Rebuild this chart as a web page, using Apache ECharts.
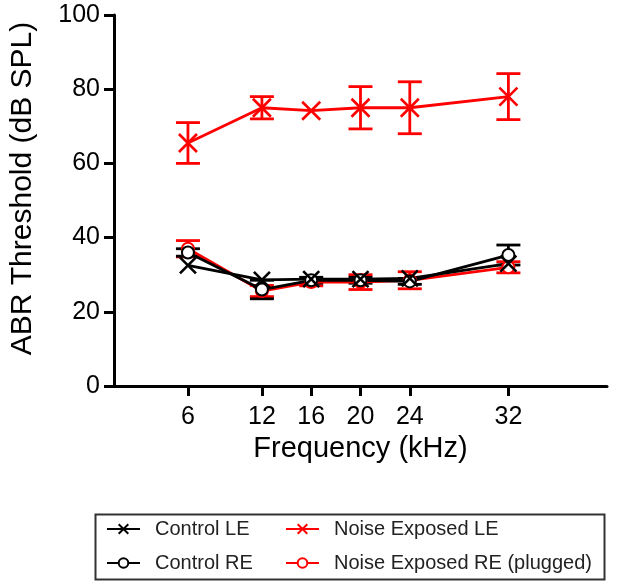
<!DOCTYPE html>
<html>
<head>
<meta charset="utf-8">
<script src="https://cdn.jsdelivr.net/npm/echarts@6/dist/echarts.min.js"></script>
<style>html,body{margin:0;padding:0;background:#fff;}#c{width:630px;height:583px;}</style>
</head>
<body>
<div id="c"></div>
<script>
const freqs = [6, 12, 16, 20, 24, 32];
const xTicks = [6, 12, 16, 20, 24, 32];
const yTicks = [0, 20, 40, 60, 80, 100];

const controlLE = [32.5, 28.6, 28.8, 28.8, 29, 33];
const controlLEsem = [0, 0, 0, 0, 0, 0];
const controlRE = [36, 26, 28.5, 28.5, 28.2, 35.3];
const controlREsem = [1, 2.5, 0.8, 0.8, 0.8, 2.7];
const noiseLE = [65.5, 75, 74.2, 75, 75, 78];
const noiseLEsem = [5.5, 3, 0, 5.7, 7, 6.2];
const noiseRE = [37, 25.6, 28, 28, 28.5, 32];
const noiseREsem = [2.2, 1.5, 1, 2, 2.3, 1.5];

const BLACK = '#000000';
const RED = '#ff0000';
const XSYM = 'path://M0,0L10,10M10,0L0,10';

function pairs(vals) { return freqs.map((f, i) => [f, vals[i]]); }
function errData(vals, sems) { return freqs.map((f, i) => [f, vals[i], sems[i]]); }

function lineSeries(name, vals, color, symbol, size) {
  return {
    name: name, type: 'line', data: pairs(vals),
    symbol: symbol, symbolSize: size, showSymbol: true, showAllSymbol: true,
    lineStyle: { color: color, width: 2.8 },
    itemStyle: { color: symbol === 'emptyCircle' ? color : 'rgba(0,0,0,0)', borderColor: color, borderWidth: 2.6 },
    emphasis: { disabled: true },
    z: 3
  };
}

function errSeries(name, vals, sems, color) {
  return {
    name: name, type: 'custom', data: errData(vals, sems),
    encode: { x: 0, y: [1] },
    renderItem: function (params, api) {
      const x = api.value(0), m = api.value(1), s = api.value(2);
      if (!(s > 0)) return { type: 'group', children: [] };
      const top = api.coord([x, m + s]);
      const bot = api.coord([x, m - s]);
      const hw = 12;
      const st = { stroke: color, lineWidth: 2.8 };
      return {
        type: 'group',
        children: [
          { type: 'line', shape: { x1: top[0], y1: top[1], x2: bot[0], y2: bot[1] }, style: st },
          { type: 'line', shape: { x1: top[0] - hw, y1: top[1], x2: top[0] + hw, y2: top[1] }, style: st },
          { type: 'line', shape: { x1: bot[0] - hw, y1: bot[1], x2: bot[0] + hw, y2: bot[1] }, style: st }
        ]
      };
    },
    z: 2, silent: true
  };
}

const FONT = 'Liberation Sans';
const chart = echarts.init(document.getElementById('c'), null, { renderer: 'canvas' });
chart.setOption({
  animation: false,
  backgroundColor: '#ffffff',
  grid: { left: 114, right: 23, top: 15, bottom: 197, outerBoundsMode: 'none' },
  xAxis: {
    type: 'value', min: 0, max: 40,
    name: 'Frequency (kHz)', nameLocation: 'middle', nameGap: 48,
    nameTextStyle: { fontFamily: FONT, fontSize: 29, color: '#000' },
    axisLine: { show: true, lineStyle: { color: '#000', width: 3 } },
    axisTick: { show: true, customValues: xTicks, length: 10, lineStyle: { color: '#000', width: 3 } },
    axisLabel: { customValues: xTicks, margin: 19, fontFamily: FONT, fontSize: 25, color: '#000' },
    splitLine: { show: false }
  },
  yAxis: {
    type: 'value', min: 0, max: 100, interval: 20,
    name: 'ABR Threshold (dB SPL)', nameLocation: 'middle', nameGap: 76, nameRotate: 90,
    nameTextStyle: { fontFamily: FONT, fontSize: 30, color: '#000', padding: [0, 0, 0, 24] },
    axisLine: { show: true, lineStyle: { color: '#000', width: 3 } },
    axisTick: { show: true, length: 10, lineStyle: { color: '#000', width: 3 } },
    axisLabel: { customValues: yTicks, margin: 14, fontFamily: FONT, fontSize: 25, color: '#000' },
    splitLine: { show: false }
  },
  legend: [
    {
      data: ['Control LE', 'Control RE'], orient: 'vertical', left: 101, top: 514,
      itemWidth: 33, itemHeight: 12, itemGap: 14,
      textStyle: { fontFamily: FONT, fontSize: 20, color: '#222', padding: [0, 0, 0, 10] }
    },
    {
      data: ['Noise Exposed LE', 'Noise Exposed RE (plugged)'], orient: 'vertical', left: 280, top: 514,
      itemWidth: 33, itemHeight: 12, itemGap: 14,
      textStyle: { fontFamily: FONT, fontSize: 20, color: '#222', padding: [0, 0, 0, 10] }
    }
  ],
  graphic: [
    { type: 'rect', left: 93, top: 512, shape: { width: 509, height: 65 }, style: { fill: 'none', stroke: '#333', lineWidth: 2 }, z: 0 }
  ],
  series: [
    errSeries('err-nre', noiseRE, noiseREsem, RED),
    lineSeries('Noise Exposed RE (plugged)', noiseRE, RED, 'emptyCircle', 12),
    errSeries('err-cre', controlRE, controlREsem, BLACK),
    lineSeries('Control RE', controlRE, BLACK, 'emptyCircle', 12),
    errSeries('err-cle', controlLE, controlLEsem, BLACK),
    lineSeries('Control LE', controlLE, BLACK, XSYM, 16),
    errSeries('err-nle', noiseLE, noiseLEsem, RED),
    lineSeries('Noise Exposed LE', noiseLE, RED, XSYM, 18)
  ]
});
</script>
</body>
</html>
